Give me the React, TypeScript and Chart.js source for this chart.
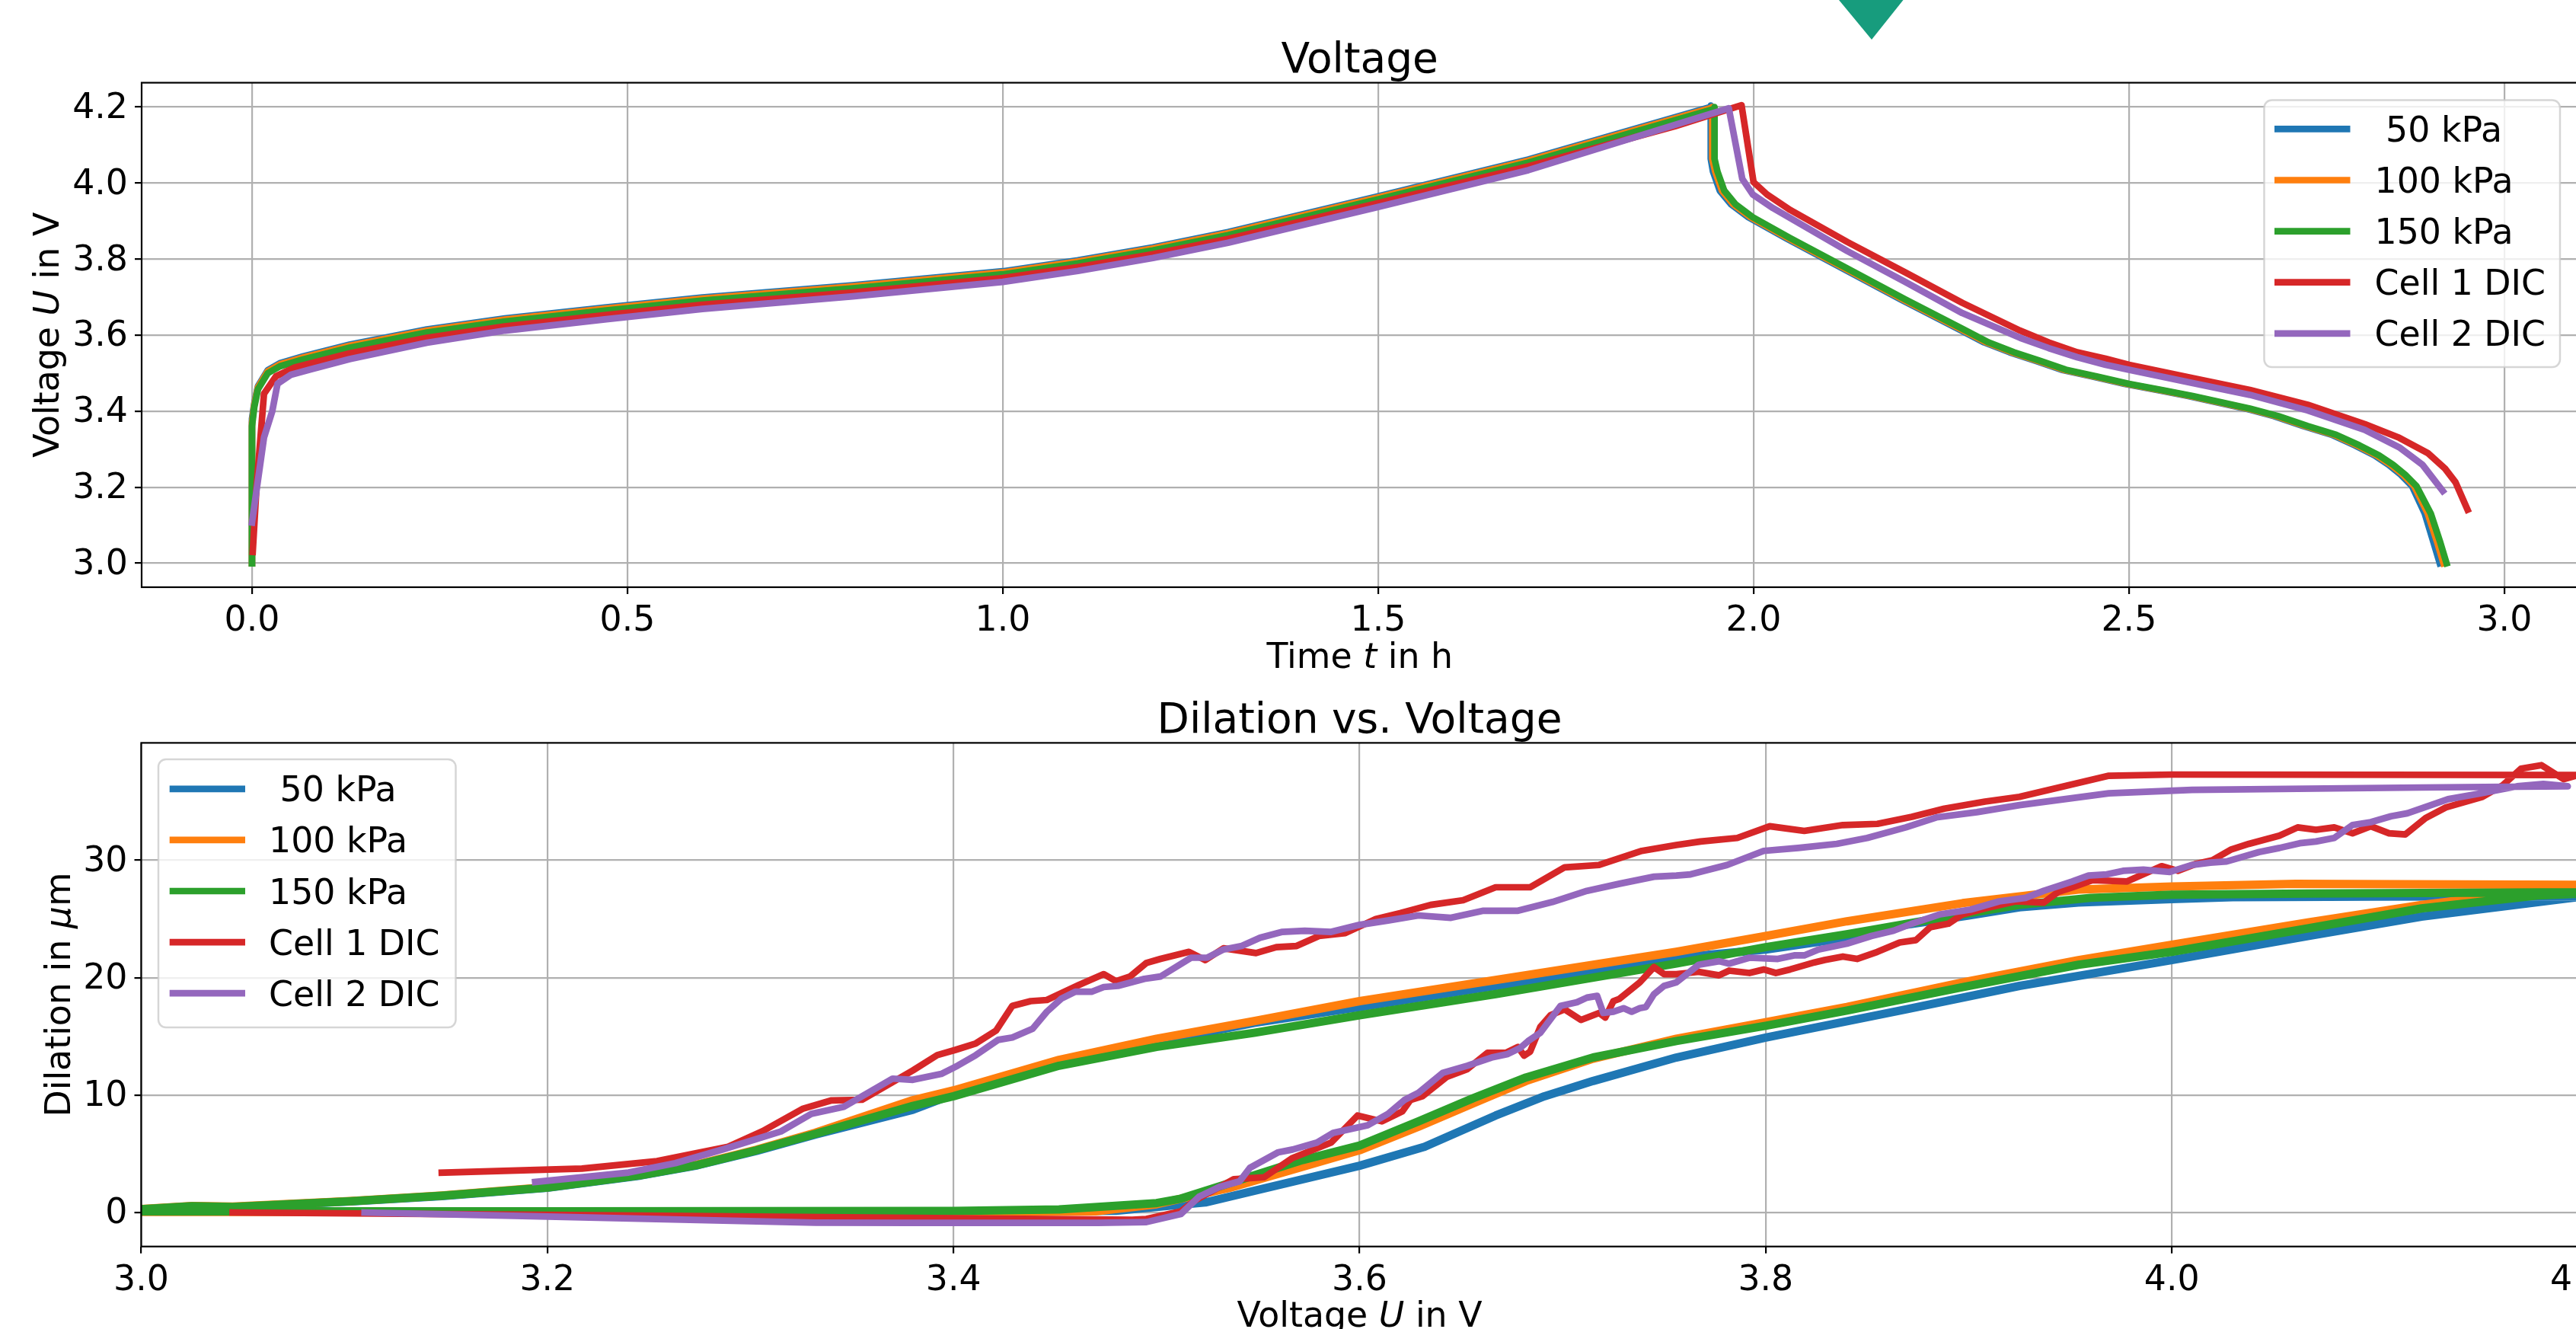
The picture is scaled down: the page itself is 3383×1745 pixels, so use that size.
import React, { useEffect, useRef } from "react";
import { Chart, registerables } from "chart.js";

Chart.register(...registerables);

const FONT = '"DejaVu Sans"';
const seriesLabels = [" 50 kPa", "100 kPa", "150 kPa", "Cell 1 DIC", "Cell 2 DIC"];
const seriesColors = ["#1f77b4", "#ff7f0e", "#2ca02c", "#d62728", "#9467bd"];

const timeTicks = [0, 0.5, 1, 1.5, 2, 2.5, 3];
const voltTicks = [3, 3.2, 3.4, 3.6, 3.8, 4, 4.2];
const dilVoltTicks = [3, 3.2, 3.4, 3.6, 3.8, 4, 4.2];
const dilTicks = [0, 10, 20, 30];

// Voltage vs time
const t50 = [0,0,0.003,0.008,0.021,0.037,0.068,0.13,0.233,0.337,0.472,0.6,0.8,1.0,1.1,1.2,1.3,1.5,1.7,1.943,1.943,1.943,1.946,1.955,1.97,1.993,2.043,2.119,2.196,2.272,2.307,2.341,2.376,2.41,2.452,2.494,2.54,2.579,2.655,2.693,2.732,2.77,2.801,2.827,2.846,2.862,2.877,2.894,2.905,2.914];
const u50 = [3,3.38,3.42,3.466,3.508,3.526,3.544,3.575,3.615,3.644,3.673,3.699,3.731,3.768,3.797,3.831,3.871,3.965,4.062,4.2,4.204,4.064,4.03,3.98,3.944,3.91,3.855,3.775,3.694,3.617,3.581,3.555,3.532,3.509,3.491,3.472,3.455,3.44,3.407,3.387,3.361,3.338,3.31,3.284,3.259,3.233,3.203,3.131,3.059,3];
const t100 = [0,0,0.003,0.008,0.021,0.037,0.068,0.13,0.233,0.337,0.472,0.6,0.8,1.0,1.1,1.2,1.3,1.5,1.7,1.945,1.945,1.945,1.949,1.958,1.973,1.996,2.046,2.122,2.199,2.275,2.31,2.344,2.379,2.413,2.455,2.497,2.543,2.582,2.658,2.696,2.735,2.773,2.804,2.83,2.849,2.865,2.88,2.898,2.91,2.919];
const u100 = [3,3.37,3.416,3.463,3.505,3.523,3.541,3.572,3.612,3.641,3.67,3.696,3.728,3.765,3.794,3.828,3.868,3.962,4.059,4.198,4.2,4.064,4.03,3.98,3.944,3.91,3.855,3.775,3.694,3.617,3.581,3.555,3.532,3.509,3.491,3.472,3.455,3.44,3.407,3.387,3.361,3.338,3.31,3.284,3.259,3.233,3.203,3.131,3.059,3];
const t150 = [0,0,0.003,0.008,0.021,0.037,0.068,0.13,0.233,0.337,0.472,0.6,0.8,1.0,1.1,1.2,1.3,1.5,1.7,1.948,1.948,1.948,1.952,1.961,1.976,1.999,2.049,2.125,2.202,2.278,2.313,2.347,2.382,2.416,2.458,2.5,2.546,2.585,2.661,2.699,2.738,2.776,2.807,2.833,2.852,2.868,2.883,2.902,2.914,2.923];
const u150 = [3,3.36,3.41,3.458,3.5,3.518,3.536,3.567,3.607,3.636,3.665,3.691,3.723,3.76,3.789,3.823,3.863,3.957,4.054,4.195,4.2,4.064,4.03,3.98,3.944,3.91,3.855,3.775,3.694,3.617,3.581,3.555,3.532,3.509,3.491,3.472,3.455,3.44,3.407,3.387,3.361,3.338,3.31,3.284,3.259,3.233,3.203,3.131,3.059,3];
const t1 = [0.001,0.006,0.016,0.032,0.057,0.13,0.233,0.337,0.472,0.6,0.8,1.0,1.1,1.2,1.3,1.5,1.7,1.896,1.984,2.0,2.018,2.049,2.125,2.202,2.278,2.355,2.393,2.431,2.469,2.5,2.585,2.661,2.738,2.814,2.86,2.898,2.921,2.935,2.951];
const u1 = [3.03,3.2,3.446,3.492,3.515,3.552,3.593,3.623,3.653,3.68,3.712,3.75,3.779,3.813,3.853,3.947,4.044,4.15,4.205,4.0025,3.97,3.929,3.845,3.765,3.685,3.612,3.581,3.555,3.538,3.522,3.487,3.456,3.417,3.366,3.33,3.29,3.249,3.213,3.141];
const t2 = [0,0.016,0.027,0.034,0.052,0.078,0.13,0.233,0.337,0.472,0.6,0.8,1.0,1.1,1.2,1.3,1.5,1.7,1.967,1.985,1.999,2.026,2.125,2.202,2.278,2.355,2.393,2.431,2.469,2.5,2.585,2.661,2.738,2.814,2.86,2.891,2.918];
const u2 = [3.107,3.331,3.4,3.472,3.496,3.51,3.537,3.58,3.612,3.642,3.669,3.702,3.74,3.769,3.803,3.843,3.937,4.034,4.197,4.011,3.97,3.934,3.821,3.74,3.658,3.593,3.566,3.542,3.522,3.509,3.474,3.443,3.402,3.351,3.305,3.259,3.19];

// Dilation vs voltage
const v50 = [3,3.2,3.4,3.48,3.524,3.548,3.6,3.632,3.667,3.691,3.715,3.756,3.8,3.869,3.925,4,4.067,4.123,4.199,4.22,4.1,4.03,4,3.954,3.925,3.9,3.869,3.84,3.8,3.756,3.667,3.6,3.548,3.5,3.452,3.4,3.38,3.332,3.303,3.274,3.246,3.2,3.148,3.103,3.045,3.025,3];
const d50 = [0.1,0.05,0.05,0.15,0.85,1.84,3.98,5.6,8.26,9.9,11.2,13.2,14.9,17.3,19.3,21.5,23.55,25.2,26.84,26.95,26.9,26.85,26.7,26.4,26,25.3,24.5,23.4,22.4,21.7,19.3,17.5,16.15,14.5,12.7,10.07,8.75,6.64,5.24,4.02,3.15,2.1,1.4,0.94,0.45,0.52,0.25];
const v100 = [3,3.2,3.4,3.47,3.5,3.536,3.572,3.6,3.629,3.656,3.682,3.715,3.756,3.8,3.84,3.897,3.954,4,4.067,4.123,4.18,4.22,4.061,4,3.954,3.897,3.84,3.8,3.756,3.667,3.6,3.548,3.5,3.452,3.4,3.38,3.332,3.303,3.274,3.246,3.2,3.148,3.103,3.045,3.025,3];
const d100 = [0.05,0.05,0,0.1,0.7,2.1,3.9,5.3,7.3,9.3,11.2,13.1,14.8,16.2,17.5,19.6,21.5,22.8,24.7,26.2,27.4,27.9,28,27.76,27.5,26.35,24.8,23.55,22.2,19.8,18,16.3,14.8,13,10.4,9.57,6.8,5.35,4.1,3.2,2.15,1.45,0.97,0.5,0.55,0.3];
const v150 = [3,3.2,3.4,3.452,3.5,3.512,3.536,3.572,3.6,3.629,3.656,3.682,3.715,3.756,3.8,3.84,3.897,3.954,4,4.067,4.123,4.18,4.22,4.067,4,3.96,3.925,3.883,3.84,3.8,3.756,3.667,3.6,3.548,3.5,3.452,3.4,3.38,3.332,3.303,3.274,3.246,3.2,3.148,3.103,3.045,3.025,3];
const d150 = [0.1,0.1,0.13,0.26,0.8,1.18,2.5,4.47,5.7,7.76,9.74,11.5,13.2,14.6,15.9,17.2,19.2,21.1,22.2,24.2,25.9,27,27.3,27.17,27.07,26.8,26.2,25,23.7,22.6,21.2,18.6,16.8,15.3,14.1,12.5,9.9,9.08,6.7,5.3,4.05,3.17,2.12,1.42,0.95,0.47,0.53,0.27];
const v1 = [3.045,3.2,3.38,3.488,3.495,3.512,3.519,3.538,3.553,3.567,3.586,3.599,3.611,3.621,3.625,3.631,3.643,3.653,3.663,3.672,3.678,3.681,3.684,3.689,3.694,3.701,3.709,3.718,3.721,3.725,3.728,3.738,3.745,3.75,3.756,3.767,3.777,3.782,3.792,3.799,3.805,3.812,3.824,3.829,3.838,3.845,3.855,3.866,3.874,3.881,3.89,3.897,3.908,3.923,3.937,3.944,3.951,3.961,3.978,3.995,4.003,4.012,4.02,4.029,4.038,4.053,4.062,4.071,4.08,4.089,4.098,4.107,4.115,4.125,4.135,4.153,4.163,4.172,4.182,4.193,4.199,4.22,4.0,3.969,3.925,3.908,3.888,3.872,3.855,3.838,3.819,3.802,3.786,3.768,3.756,3.739,3.718,3.701,3.684,3.667,3.651,3.635,3.62,3.608,3.593,3.58,3.569,3.559,3.549,3.533,3.524,3.516,3.502,3.495,3.487,3.48,3.474,3.462,3.446,3.438,3.429,3.421,3.411,3.401,3.392,3.38,3.355,3.34,3.326,3.306,3.289,3.274,3.254,3.217,3.148];
const d1 = [0,-0.2,-0.46,-0.62,-0.55,0.1,1.02,2.83,3,4.64,5.95,8.26,7.76,8.6,9.57,9.9,11.55,12.2,13.6,13.6,14.1,13.36,13.7,15.8,16.8,17.3,16.4,17,16.6,18,18.2,19.6,20.9,20.3,20.3,20.5,20.2,20.6,20.4,20.7,20.4,20.7,21.3,21.5,21.8,21.6,22.2,23,23.2,24.3,24.6,25.4,25.9,26.5,26.4,27.3,27.7,28.3,28.2,29.5,29.1,29.7,30,30.9,31.4,32.1,32.8,32.6,32.8,32.3,32.9,32.3,32.2,33.6,34.5,35.4,36.4,37.8,38.1,36.9,37.2,37.25,37.3,37.2,35.4,35,34.4,33.7,33.1,33,32.5,32.9,31.9,31.6,31.3,30.8,29.6,29.4,27.7,27.7,26.6,26.2,25.5,25,23.8,23.55,22.7,22.6,22.1,22.5,21.5,22.2,21.6,21.25,20.1,19.7,20.3,19.4,18.1,18,17.6,15.5,14.4,13.85,13.4,12.1,9.6,9.55,8.85,6.92,5.6,5.07,4.37,3.74,3.39];
const v2 = [3.11,3.2,3.332,3.38,3.471,3.495,3.512,3.521,3.531,3.541,3.546,3.56,3.567,3.579,3.587,3.604,3.614,3.622,3.629,3.641,3.653,3.665,3.673,3.679,3.683,3.689,3.699,3.707,3.712,3.717,3.72,3.725,3.73,3.734,3.738,3.741,3.745,3.75,3.756,3.767,3.777,3.782,3.792,3.806,3.814,3.819,3.826,3.84,3.852,3.863,3.872,3.886,3.901,3.915,3.928,3.937,3.951,3.959,3.968,3.976,3.986,3.999,4.01,4.019,4.027,4.043,4.053,4.063,4.071,4.08,4.089,4.098,4.108,4.116,4.136,4.152,4.17,4.183,4.195,4.123,4.01,3.969,3.925,3.904,3.884,3.869,3.85,3.835,3.816,3.799,3.781,3.763,3.756,3.745,3.728,3.712,3.695,3.678,3.661,3.645,3.629,3.614,3.6,3.586,3.573,3.562,3.551,3.542,3.533,3.525,3.517,3.502,3.494,3.481,3.474,3.468,3.46,3.453,3.446,3.439,3.429,3.422,3.411,3.402,3.394,3.38,3.37,3.359,3.346,3.33,3.315,3.287,3.263,3.24,3.194];
const d2 = [0,-0.35,-0.87,-0.89,-0.89,-0.82,-0.13,1.35,2.17,2.66,3.8,5.13,5.36,5.95,6.78,7.43,8.4,9.57,10.2,11.9,12.5,13.2,13.5,14,14.6,15.3,17.6,17.9,18.3,18.45,17,17.1,17.4,17.1,17.4,17.5,18.6,19.3,19.6,21.1,21.4,21.2,21.7,21.6,21.9,21.9,22.4,22.9,23.55,24,24.6,25.4,25.8,26.5,26.8,27.4,28.2,28.7,28.8,29.1,29.2,29,29.6,29.8,29.9,30.7,31.05,31.45,31.6,31.9,33,33.25,33.75,34,35.2,35.7,36.3,36.5,36.3,36.2,36,35.7,34.7,34.1,33.65,32.8,31.9,31.4,31.05,30.8,29.6,28.8,28.7,28.6,28,27.4,26.45,25.7,25.7,25.1,25.3,24.87,24.5,23.9,24,23.9,23.4,22.7,22.4,21.7,21.7,20.1,19.9,19.3,19.2,18.8,18.8,18.2,17.1,15.65,14.9,14.7,13.4,12.5,11.8,11.3,11.4,10.3,9,8.4,6.9,5.4,4.2,3.4,2.6];

const TOP_TITLE = "Voltage";
const BOTTOM_TITLE = "Dilation vs. Voltage";
const TOP_X = [["Time ", false], ["t", true], [" in h", false]];
const TOP_Y = [["Voltage ", false], ["U", true], [" in V", false]];
const BOTTOM_X = [["Voltage ", false], ["U", true], [" in V", false]];
const BOTTOM_Y = [["Dilation in ", false], ["\u03bc", true], ["m", false]];

const zip = (xs: number[], ys: number[]) => xs.map((x, i) => ({ x, y: ys[i] }));

function makeDatasets(pairs: [number[], number[]][], widths: number[]) {
  return pairs.map(([xs, ys], i) => ({
    label: seriesLabels[i],
    data: zip(xs, ys),
    order: pairs.length - i,
    borderColor: seriesColors[i],
    backgroundColor: seriesColors[i],
    borderWidth: widths[i],
    borderCapStyle: "square" as const,
    borderJoinStyle: "round" as const,
    pointRadius: 0,
    showLine: true,
    tension: 0,
    fill: false,
  }));
}

const decorPlugin = {
  id: "decor",
  beforeDraw(chart: any) {
    // matplotlib centres tick digits slightly lower than a "middle" text baseline
    chart.scales.y.getLabelItems().forEach((it: any) => {
      if (!it.options._moved) {
        it.options.translation = [it.options.translation[0], it.options.translation[1] + 2.5];
        it.options._moved = true;
      }
    });
  },
  afterDatasetsDraw(chart: any, _a: any, o: any) {
    const { ctx, chartArea: a } = chart;
    ctx.save();
    ctx.strokeStyle = "#000";
    ctx.lineWidth = 2.2;
    ctx.strokeRect(a.left, a.top, a.right - a.left, a.bottom - a.top);

    // legend
    const l = o.legend;
    ctx.beginPath();
    ctx.roundRect(l.x, l.y, l.w, l.h, 10);
    ctx.fillStyle = "rgba(255,255,255,0.8)";
    ctx.fill();
    ctx.strokeStyle = "rgba(204,204,204,0.8)";
    ctx.lineWidth = 2.5;
    ctx.stroke();
    ctx.font = `45.8px ${FONT}`;
    ctx.textBaseline = "alphabetic";
    ctx.textAlign = "left";
    chart.data.datasets.forEach((ds: any, i: number) => {
      const y = l.firstRow + i * l.rowGap;
      ctx.strokeStyle = ds.borderColor;
      ctx.lineWidth = 8.7;
      ctx.lineCap = "butt";
      ctx.beginPath();
      ctx.moveTo(l.hx0, y);
      ctx.lineTo(l.hx1, y);
      ctx.stroke();
      ctx.fillStyle = "#000";
      ctx.fillText(ds.label, l.tx, y + 16.5);
    });

    // axis titles with italic symbols
    const drawRuns = (runs: any[], cx: number, cy: number, rot: number) => {
      const fontOf = (it: boolean) => `${it ? "italic " : ""}45.8px ${FONT}`;
      let w = 0;
      runs.forEach(([s, it]) => { ctx.font = fontOf(it); w += ctx.measureText(s).width; });
      ctx.save();
      ctx.translate(cx, cy);
      ctx.rotate(rot);
      ctx.fillStyle = "#000";
      let x = -w / 2;
      runs.forEach(([s, it]) => {
        ctx.font = fontOf(it);
        ctx.fillText(s, x, 0);
        x += ctx.measureText(s).width;
      });
      ctx.restore();
    };
    const mid = (a.left + a.right) / 2;
    drawRuns(o.xRuns, mid, o.xBase, 0);
    drawRuns(o.yRuns, o.yBase, (a.top + a.bottom) / 2, -Math.PI / 2);

    // marker clipped by the top edge of the picture
    if (o.marker) {
      ctx.beginPath();
      ctx.moveTo(2415, 0);
      ctx.lineTo(2499.5, 0);
      ctx.lineTo(2458, 52);
      ctx.closePath();
      ctx.fillStyle = "#179c7d";
      ctx.fill();
    }
    ctx.restore();
  },
};

function makeConfig(c: any): any {
  const fixedTicks = (vals: number[]) => (s: any) => { s.ticks = vals.map((value) => ({ value })); };
  return {
    type: "scatter",
    data: { datasets: c.datasets },
    plugins: [decorPlugin],
    options: {
      animation: false,
      responsive: false,
      maintainAspectRatio: false,
      layout: { padding: { left: 0, right: c.right, top: 0, bottom: 0 } },
      plugins: {
        legend: { display: false },
        tooltip: { enabled: false },
        title: {
          display: true,
          text: c.title,
          fullSize: false,
          color: "#000",
          font: { family: FONT, size: 55, weight: "normal", lineHeight: 0.5 },
          padding: { top: c.titleTop, bottom: c.titleBottom },
        },
        decor: {
          legend: c.legend,
          xRuns: c.xRuns,
          yRuns: c.yRuns,
          xBase: c.xBase,
          yBase: c.yBase,
          marker: c.marker,
        },
      },
      scales: {
        x: {
          type: "linear",
          min: c.xMin,
          max: c.xMax,
          afterBuildTicks: fixedTicks(c.xTicks),
          afterFit: (s: any) => { s.height = c.xAxisH; },
          grid: { color: "#b0b0b0", lineWidth: 2.2, tickLength: 9, tickColor: "#000", tickWidth: 2.2 },
          border: { display: false },
          ticks: {
            autoSkip: false, maxRotation: 0, minRotation: 0, padding: c.xPad, color: "#000",
            font: { family: FONT, size: 45.8 },
            callback: (v: number) => v.toFixed(1),
          },
        },
        y: {
          type: "linear",
          min: c.yMin,
          max: c.yMax,
          afterBuildTicks: fixedTicks(c.yTicks),
          afterFit: (s: any) => { s.width = c.yAxisW; },
          grid: { color: "#b0b0b0", lineWidth: 2.2, tickLength: 9, tickColor: "#000", tickWidth: 2.2 },
          border: { display: false },
          ticks: {
            autoSkip: false, padding: 9, color: "#000",
            font: { family: FONT, size: 45.8 },
            callback: c.yFmt,
          },
        },
      },
    },
  };
}

export default function App() {
  const topRef = useRef<HTMLCanvasElement>(null);
  const botRef = useRef<HTMLCanvasElement>(null);

  useEffect(() => {
    const top = new Chart(topRef.current!, makeConfig({
      datasets: makeDatasets([[t50, u50], [t100, u100], [t150, u150], [t1, u1], [t2, u2]], [8.7, 8.7, 8.7, 8.7, 8.7]),
      title: TOP_TITLE, titleTop: 66.75, titleBottom: 14.35, right: 114.5,
      xMin: -0.147, xMax: 3.098, yMin: 2.937, yMax: 4.264,
      xTicks: timeTicks, yTicks: voltTicks, xAxisH: 129, yAxisW: 186, xPad: 9,
      xBase: 877, yBase: 76.5, xRuns: TOP_X, yRuns: TOP_Y, marker: true,
      yFmt: (v: number) => v.toFixed(1),
      legend: { x: 2973.5, y: 131.5, w: 388.5, h: 350.5, firstRow: 169.4, rowGap: 67.1, hx0: 2987, hx1: 3086.5, tx: 3118.5 },
    }));
    const bot = new Chart(botRef.current!, makeConfig({
      datasets: makeDatasets([[v50, d50], [v100, d100], [v150, d150], [v1, d1], [v2, d2]], [11, 11, 11, 8.7, 8.7]),
      title: BOTTOM_TITLE, titleTop: 33.75, titleBottom: 14.15, right: 114.5,
      xMin: 3, xMax: 4.2, yMin: -2.9, yMax: 40,
      xTicks: dilVoltTicks, yTicks: dilTicks, xAxisH: 213.3, yAxisW: 185.5, xPad: 9,
      xBase: 842, yBase: 92, xRuns: BOTTOM_X, yRuns: BOTTOM_Y, marker: false,
      yFmt: (v: number) => String(v),
      legend: { x: 208, y: 97, w: 390.5, h: 352, firstRow: 135.8, rowGap: 67.1, hx0: 222.7, hx1: 322, tx: 353 },
    }));
    return () => { top.destroy(); bot.destroy(); };
  }, []);

  return (
    <div style={{ position: "absolute", left: 0, top: 0, width: 3383, height: 1745, overflow: "hidden", background: "#fff" }}>
      <canvas ref={topRef} width={3500} height={900} style={{ position: "absolute", left: 0, top: 0, width: 3500, height: 900 }} />
      <canvas ref={botRef} width={3500} height={950} style={{ position: "absolute", left: 0, top: 900, width: 3500, height: 950 }} />
    </div>
  );
}
